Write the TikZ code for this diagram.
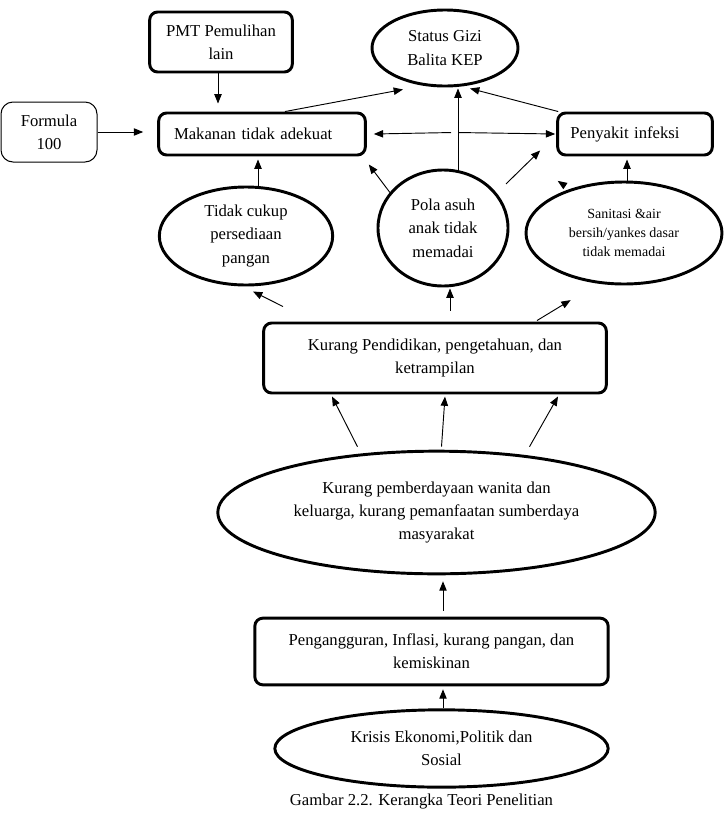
\documentclass[tikz,border=0pt]{standalone}
\usepackage{fontspec}
\setmainfont{Liberation Serif}
\usetikzlibrary{shapes.geometric,calc,arrows.meta}

\tikzset{
  kotak/.style={draw,rounded corners=6pt,line width=2.2pt,align=center,
    font=\fontsize{12.5}{17.5}\selectfont},
  oval/.style={draw,ellipse,line width=2.2pt,align=center,inner sep=0pt,
    font=\fontsize{12.5}{17.5}\selectfont},
  panah/.style={-{Triangle[length=7pt,width=5.5pt]},line width=0.7pt}
}

\begin{document}
\begin{tikzpicture}[x=0.75pt,y=-0.75pt]
\useasboundingbox (0,0) rectangle (724,818);
% kotak dan oval
\node[kotak,minimum width=107pt,minimum height=45pt] (pmt) at (221,42) {PMT Pemulihan\\lain};
\node[kotak,line width=0.75pt,rounded corners=9pt,minimum width=72pt,minimum height=45pt] (formula) at (49,132) {Formula\\100};
\node[kotak,minimum width=155pt,minimum height=31.5pt,text width=132pt,align=left] (makanan) at (262,134) {Makanan tidak adekuat};
\node[kotak,minimum width=116pt,minimum height=31.5pt,text width=97pt,align=left] (penyakit) at (635,134) {Penyakit infeksi};
\node[oval,minimum width=109.5pt,minimum height=57pt] (status) at (445,48) {Status Gizi\\Balita KEP};
\node[oval,minimum width=130pt,minimum height=73.5pt] (tidak) at (246,236) {Tidak cukup\\persediaan\\pangan};
\node[oval,minimum width=97.5pt,minimum height=87pt] (pola) at (443,228) {Pola asuh\\anak tidak\\memadai};
\node[oval,minimum width=147pt,minimum height=76.5pt,font=\fontsize{10.5}{14}\selectfont] (sanitasi) at (624,233) {Sanitasi \&air\\bersih/yankes dasar\\tidak memadai};
\node[kotak,minimum width=257pt,minimum height=52.5pt] (didik) at (435,358) {Kurang Pendidikan, pengetahuan, dan\\ketrampilan};
\node[oval,minimum width=328pt,minimum height=92pt] (daya) at (436.5,512.5) {Kurang pemberdayaan wanita dan\\keluarga, kurang pemanfaatan sumberdaya\\masyarakat};
\node[kotak,minimum width=265pt,minimum height=50pt] (kerja) at (431.5,651.5) {Pengangguran, Inflasi, kurang pangan, dan\\kemiskinan};
\node[oval,minimum width=250pt,minimum height=58pt] (krisis) at (441.5,748.5) {Krisis Ekonomi,Politik dan\\Sosial};
\node[font=\fontsize{12.5}{14}\selectfont] (judul) at (421.5,802) {Gambar 2.2. Kerangka Teori Penelitian};
% panah atas
\draw[panah] ($(pmt.south)+(-3,0)$) -- ($(makanan.north)+(-44,-8)$);
\draw[panah] (formula.east) -- ($(formula.east -| makanan.west)+(-14,0)$);
\draw[panah] ($(makanan.north)+(23,0)$) -- ($(status.south)+(-42,2)$);
\draw[panah] ($(pola.north)+(15,2)$) -- ($(status.south)+(13,1)$);
\draw[panah] ($(penyakit.north west)+(2,0)$) -- ($(status.south)+(25,1)$);
\draw[panah] ($(pola.north)+(8,-36)$) -- ($(makanan.east)+(7,0)$);
\draw[panah] ($(pola.north)+(16,-36)$) -- ($(penyakit.west)+(-1,0)$);
\draw[panah] ($(pola.north west)+(-5,8)$) -- ($(makanan.south east)+(2,8)$);
\draw[panah] ($(pola.north east)+(16,-2)$) -- ($(penyakit.south west)+(-16,-6)$);
\draw[panah] ($(sanitasi.north west)+(5.5,-14)$) -- ($(sanitasi.north west)+(4,-15)$);
\draw[panah] ($(sanitasi.north)+(3,0)$) -- ($(penyakit.south)+(-8,3)$);
\draw[panah] ($(tidak.north)+(12,0)$) -- ($(makanan.south)+(-4,3)$);
% panah tengah
\draw[panah] ($(didik.north)+(-152,-15)$) -- ($(tidak.south)+(7,5)$);
\draw[panah] ($(didik.north)+(15,-11)$) -- ($(pola.south)+(7,1)$);
\draw[panah] ($(didik.north)+(102,-1)$) -- ($(sanitasi.south west)+(17,30)$);
\draw[panah] ($(daya.north)+(-79,-3)$) -- ($(didik.south)+(-103,2)$);
\draw[panah] ($(daya.north)+(5,-3)$) -- ($(didik.south)+(10,2)$);
\draw[panah] ($(daya.north)+(93,-3)$) -- ($(didik.south)+(123,2)$);
% panah bawah
\draw[panah] ($(kerja.north)+(11.5,-6)$) -- ($(daya.south)+(6.5,6)$);
\draw[panah] ($(krisis.north)+(1.5,0)$) -- ($(kerja.south)+(11.5,3)$);
\end{tikzpicture}
\end{document}
